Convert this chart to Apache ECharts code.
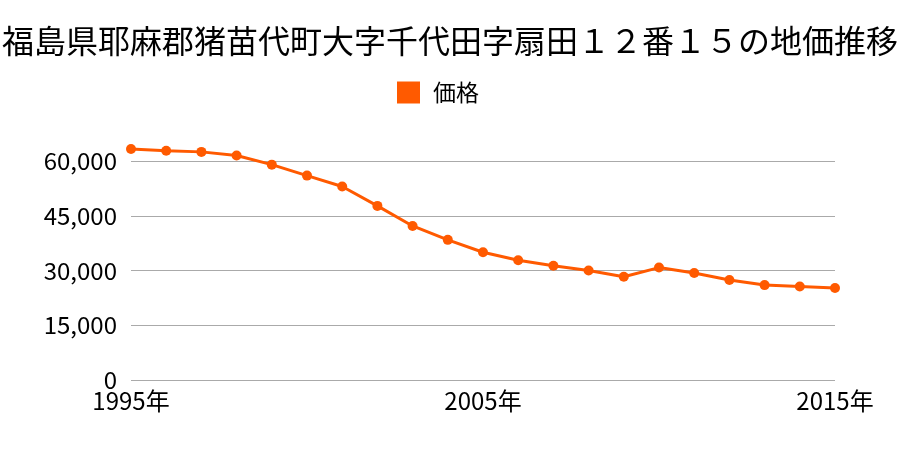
<!DOCTYPE html>
<html><head><meta charset="utf-8">
<script src="https://cdn.jsdelivr.net/npm/echarts@6/dist/echarts.min.js"></script>
<style>html,body{margin:0;padding:0;background:#fff}#c{width:900px;height:450px}</style>
</head><body><div id="c"></div>
<script>
const titleText = '福島県耶麻郡猪苗代町大字千代田字扇田１２番１５の地価推移';
const seriesName = '価格';
const years = [1995,1996,1997,1998,1999,2000,2001,2002,2003,2004,2005,2006,2007,2008,2009,2010,2011,2012,2013,2014,2015];
const prices = [63300,62800,62500,61500,59000,56000,53000,47700,42200,38400,35000,32800,31300,30000,28300,30800,29300,27400,26000,25600,25200];
const yTicks = [0,15000,30000,45000,60000];

const font = '"Noto Sans CJK JP", sans-serif';
const chart = echarts.init(document.getElementById('c'), null, {renderer:'canvas'});
chart.setOption({
  animation:false,
  backgroundColor:'#fff',
  title:{text:titleText,left:'center',top:20,textStyle:{fontFamily:font,fontSize:32,fontWeight:'normal',color:'#000'}},
  legend:{data:[seriesName],top:76,left:392,icon:'rect',itemWidth:23,itemHeight:22,itemGap:10,
    textStyle:{fontFamily:font,fontSize:23,color:'#000',padding:[0,0,0,8]}},
  grid:{left:131,right:65,top:161,bottom:70,containLabel:false},
  xAxis:{type:'value',min:years[0],max:years[years.length-1],interval:10,
    axisLine:{show:false},axisTick:{show:false},splitLine:{show:false},
    axisLabel:{formatter:v=>v+'年',fontFamily:font,fontSize:24,color:'#000',margin:9}},
  yAxis:{type:'value',min:yTicks[0],max:yTicks[yTicks.length-1],interval:yTicks[1]-yTicks[0],
    axisLine:{show:false},axisTick:{show:false},
    splitLine:{lineStyle:{color:'#aaaaaa',width:1}},
    axisLabel:{formatter:v=>v.toLocaleString('en-US'),fontFamily:font,fontSize:24,color:'#000',margin:14}},
  series:[{name:seriesName,type:'line',clip:false,
    data:years.map((y,i)=>[y,prices[i]]),
    symbol:'circle',symbolSize:10,
    itemStyle:{color:'#ff5a00'},lineStyle:{color:'#ff5a00',width:3}}]
});
</script></body></html>
